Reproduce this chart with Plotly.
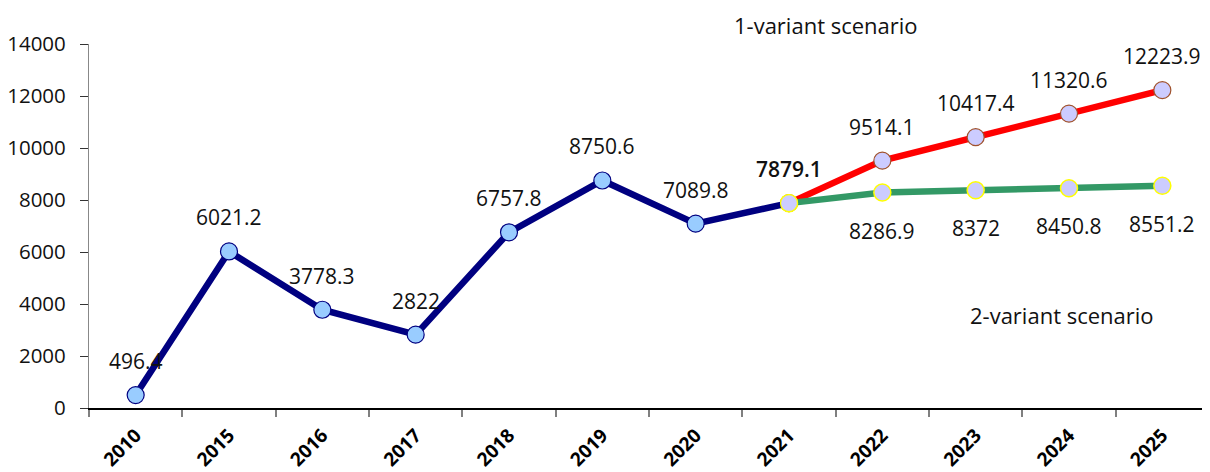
import plotly.graph_objects as go

years = ["2010", "2015", "2016", "2017", "2018", "2019", "2020", "2021", "2022", "2023", "2024", "2025"]
actual_years = ["2010", "2015", "2016", "2017", "2018", "2019", "2020", "2021"]
actual_values = [496.4, 6021.2, 3778.3, 2822, 6757.8, 8750.6, 7089.8, 7879.1]
forecast_years = ["2021", "2022", "2023", "2024", "2025"]
scenario1_values = [7879.1, 9514.1, 10417.4, 11320.6, 12223.9]
scenario2_values = [7879.1, 8286.9, 8372, 8450.8, 8551.2]

FONT = "Open Sans"
NAVY = "#000080"
RED = "#FF0000"
GREEN = "#339966"
LIGHTBLUE = "#99CCFF"
LAVENDER = "#CCCCFF"

fig = go.Figure()

fig.add_trace(go.Scatter(
    x=forecast_years, y=scenario1_values, mode="lines+markers",
    line=dict(color=RED, width=6.5),
    marker=dict(size=17, color=LAVENDER, line=dict(color="#A0522D", width=1.2)),
    showlegend=False, hoverinfo="x+y"))

fig.add_trace(go.Scatter(
    x=forecast_years, y=scenario2_values, mode="lines+markers",
    line=dict(color=GREEN, width=6.5),
    marker=dict(size=17, color=LAVENDER, line=dict(color="#FFFF00", width=1.5)),
    showlegend=False, hoverinfo="x+y"))

n = len(actual_values)
fig.add_trace(go.Scatter(
    x=actual_years, y=actual_values, mode="lines+markers",
    line=dict(color=NAVY, width=6.5),
    marker=dict(size=17,
                color=[LIGHTBLUE] * (n - 1) + [LAVENDER],
                line=dict(color=[NAVY] * (n - 1) + ["#FFFF00"], width=1.2)),
    showlegend=False, hoverinfo="x+y"))

LABEL_FONT = dict(family=FONT, size=21, color="#111")
annotations = []
for x, v in zip(actual_years, actual_values):
    f = dict(LABEL_FONT)
    if x == "2021":
        f["weight"] = 600
    annotations.append(dict(x=years.index(x), y=v, text=f"{v:g}", showarrow=False, yshift=34,
                            font=f))
for x, v in zip(forecast_years[1:], scenario1_values[1:]):
    annotations.append(dict(x=years.index(x), y=v, text=f"{v:g}", showarrow=False, yshift=34,
                            font=LABEL_FONT))
for x, v in zip(forecast_years[1:], scenario2_values[1:]):
    annotations.append(dict(x=years.index(x), y=v, text=f"{v:g}", showarrow=False, yshift=-38,
                            font=LABEL_FONT))

SCEN_FONT = dict(family=FONT, size=22, color="#111")
annotations.append(dict(xref="paper", yref="paper", x=(827 - 89) / 1121, y=1 + (44 - 25) / 364,
                        xanchor="center", yanchor="middle",
                        text="1-variant scenario", showarrow=False, font=SCEN_FONT))
annotations.append(dict(xref="paper", yref="paper", x=(1063 - 89) / 1121, y=(408 - 315) / 364,
                        xanchor="center", yanchor="middle",
                        text="2-variant scenario", showarrow=False, font=SCEN_FONT))

# page body has an 8px margin, so the figure is sized/offset to keep the plot area at 89..1210, 44..408
fig.update_layout(
    width=1202, height=464,
    margin=dict(l=81, r=1, t=36, b=64),
    paper_bgcolor="white", plot_bgcolor="white",
    annotations=annotations,
    xaxis=dict(type="category", categoryorder="array", categoryarray=years,
               range=[-0.5, 11.5], tickson="boundaries", ticks="outside", ticklen=7,
               tickcolor="#808080", tickwidth=1.5, showline=True, linecolor="#000", linewidth=1.5,
               showgrid=False, tickangle=-45, automargin=False, ticklabelstandoff=7,
               tickfont=dict(family=FONT, size=19, color="#000", weight="bold")),
    yaxis=dict(range=[0, 14000], tickvals=[0, 2000, 4000, 6000, 8000, 10000, 12000, 14000],
               ticktext=["0", "2000", "4000", "6000", "8000", "10000", "12000", "14000"],
               ticks="outside", ticklen=8, tickcolor="#333", showline=True, linecolor="#888",
               linewidth=1.2, showgrid=False, zeroline=False, ticklabelstandoff=10,
               automargin=False,
               tickfont=dict(family=FONT, size=20.5, color="#111")),
)

fig.write_html("out.html")
